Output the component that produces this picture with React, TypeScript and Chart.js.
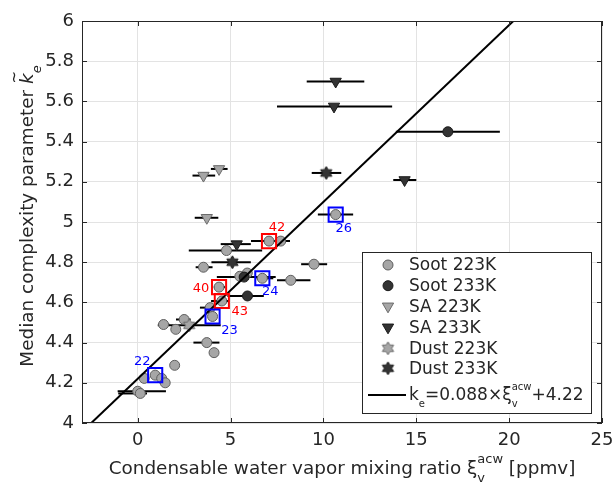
import React, { useEffect, useRef } from "react";
import { Chart, registerables } from "chart.js";

Chart.register(...registerables);

// ---------------- data ----------------
// Soot 223K (grey circles)
const soot223X = [0.0, 0.14, 0.35, 0.94, 1.29, 1.48, 1.99, 1.39, 2.05, 2.5, 3.72, 4.11, 3.9, 4.03, 4.38, 4.53, 3.54, 4.78, 5.5, 5.9, 6.71, 8.24, 7.07, 7.7, 9.49, 10.66];
const soot223Y = [4.158, 4.147, 4.222, 4.238, 4.222, 4.2, 4.287, 4.49, 4.466, 4.515, 4.4, 4.35, 4.574, 4.53, 4.676, 4.607, 4.775, 4.858, 4.73, 4.746, 4.72, 4.71, 4.905, 4.905, 4.79, 5.037];
const soot223Lo: (number | null)[] = [-1.08, -1.05, null, null, null, null, null, 1.1, null, 2.06, 3.0, null, 3.35, null, 4.1, 3.95, 3.12, 2.75, null, null, 6.4, 7.5, 6.1, null, 8.8, 9.7];
const soot223Hi: (number | null)[] = [1.52, 0.5, null, null, null, null, null, 1.7, null, 2.85, 4.4, null, 4.05, null, 4.7, 4.9, 4.03, 6.7, null, null, 7.3, 9.3, 8.2, null, 10.2, 11.6];

// Soot 233K (dark circles)
const soot233X = [5.73, 5.91, 16.7];
const soot233Y = [4.726, 4.632, 5.449];
const soot233Lo = [4.26, 4.83, 13.9];
const soot233Hi = [7.43, 6.79, 19.5];

// SA 223K (grey down triangles)
const sa223X = [3.54, 4.38, 3.72];
const sa223Y = [5.231, 5.264, 5.021];
const sa223Lo = [2.95, 3.94, 3.07];
const sa223Hi = [4.17, 4.84, 4.34];

// SA 233K (dark down triangles)
const sa233X = [10.66, 10.57, 14.37, 5.33];
const sa233Y = [5.699, 5.575, 5.209, 4.89];
const sa233Lo = [9.1, 7.5, 13.76, 4.47];
const sa233Hi = [12.2, 13.7, 15.0, 6.09];

// Dust 223K (grey hexagrams)
const dust223X = [2.77];
const dust223Y = [4.486];
const dust223Lo = [1.08];
const dust223Hi = [4.47];

// Dust 233K (dark hexagrams)
const dust233X = [10.15, 5.1];
const dust233Y = [5.244, 4.8];
const dust233Lo = [9.37, 3.97];
const dust233Hi = [10.96, 6.09];

// highlighted experiments (indices into Soot 223K)
const blueIdx = [3, 13, 20, 25];
const blueLabels = ["22", "23", "24", "26"];
const redIdx = [14, 15, 22];
const redLabels = ["40", "43", "42"];

// linear fit
const fitSlope = 0.088;
const fitIntercept = 4.22;

// axes
const xTicks = [0, 5, 10, 15, 20, 25];
const yTicks = [4, 4.2, 4.4, 4.6, 4.8, 5, 5.2, 5.4, 5.6, 5.8, 6];
const xMin = -3, xMax = 25, yMin = 4, yMax = 6;

// ---------------- style ----------------
const FAM = '"DejaVu Sans", sans-serif';
const TXT = "#262626";
const GREY = "#a6a6a6";
const GREY_EDGE = "#5e5e5e";
const DARK = "#333333";
const DARK_EDGE = "#1a1a1a";
const TICK_SIZE = 18;
const TITLE_SIZE = 18.4;
const LEG_SIZE = 17;

// label pixel offsets relative to highlighted square
const blueOffsets = [[-13, -14], [17, 14], [8, 13], [8, 14]];
const redOffsets = [[-18, 2], [18, 11], [8, -13]];

function makeHexagram(fill: string, stroke: string, r: number) {
  const c = document.createElement("canvas");
  const s = Math.ceil(r * 2 + 4);
  c.width = s;
  c.height = s;
  const g = c.getContext("2d")!;
  const cx = s / 2, cy = s / 2;
  g.beginPath();
  for (let i = 0; i < 12; i++) {
    const a = -Math.PI / 2 + (i * Math.PI) / 6;
    const rr = i % 2 === 0 ? r : r * 0.58;
    const px = cx + rr * Math.cos(a), py = cy + rr * Math.sin(a);
    if (i === 0) g.moveTo(px, py); else g.lineTo(px, py);
  }
  g.closePath();
  g.fillStyle = fill;
  g.fill();
  g.strokeStyle = stroke;
  g.lineWidth = 1;
  g.stroke();
  return c;
}

type Seg = { t: string; sub?: string; sup?: string; italic?: boolean; tilde?: boolean };

function drawRich(ctx: CanvasRenderingContext2D, segs: Seg[], x: number, y: number, size: number, align: "left" | "center", ratio = 0.7) {
  const small = Math.round(size * ratio);
  const f = (sz: number, it?: boolean) => `${it ? "italic " : ""}${sz}px ${FAM}`;
  const widths = segs.map((s) => {
    ctx.font = f(size, s.italic);
    const w = ctx.measureText(s.t).width;
    ctx.font = f(small, s.italic);
    const ws = Math.max(s.sub ? ctx.measureText(s.sub).width : 0, s.sup ? ctx.measureText(s.sup).width : 0);
    return w + ws;
  });
  const total = widths.reduce((a, b) => a + b, 0);
  let cx = align === "center" ? x - total / 2 : x;
  ctx.textAlign = "left";
  ctx.textBaseline = "alphabetic";
  segs.forEach((s, i) => {
    ctx.font = f(size, s.italic);
    ctx.fillText(s.t, cx, y);
    const w = ctx.measureText(s.t).width;
    if (s.tilde) {
      ctx.save();
      ctx.font = `${Math.round(size * 0.8)}px ${FAM}`;
      ctx.textAlign = "center";
      ctx.textBaseline = "middle";
      ctx.fillText("~", cx + w / 2 + 1.5, y - size * 0.95);
      ctx.restore();
    }
    ctx.font = f(small, s.italic);
    if (s.sub) ctx.fillText(s.sub, cx + w, y + size * 0.42);
    if (s.sup) ctx.fillText(s.sup, cx + w, y - size * 0.6);
    cx += widths[i];
  });
}

const allBars = [
  { x: soot223X, y: soot223Y, lo: soot223Lo, hi: soot223Hi },
  { x: soot233X, y: soot233Y, lo: soot233Lo, hi: soot233Hi },
  { x: sa223X, y: sa223Y, lo: sa223Lo, hi: sa223Hi },
  { x: sa233X, y: sa233Y, lo: sa233Lo, hi: sa233Hi },
  { x: dust223X, y: dust223Y, lo: dust223Lo, hi: dust223Hi },
  { x: dust233X, y: dust233Y, lo: dust233Lo, hi: dust233Hi },
];

const pts = (xs: number[], ys: number[]) => xs.map((x, i) => ({ x, y: ys[i] }));

export default function App() {
  const ref = useRef<HTMLCanvasElement | null>(null);

  useEffect(() => {
    document.body.style.margin = "0";
    const canvas = ref.current!;
    const hexLight = makeHexagram(GREY, "#6a6a6a", 6.5);
    const hexDark = makeHexagram(DARK, DARK_EDGE, 6.5);

    const overlay = {
      id: "overlay",
      beforeDatasetsDraw(chart: any) {
        const ctx = chart.ctx as CanvasRenderingContext2D;
        const xs = chart.scales.x, ys = chart.scales.y;
        ctx.save();
        ctx.strokeStyle = "#000";
        ctx.lineWidth = 2;
        allBars.forEach((s) => {
          s.x.forEach((_, i) => {
            const lo = s.lo[i], hi = s.hi[i];
            if (lo == null || hi == null) return;
            const py = ys.getPixelForValue(s.y[i]);
            ctx.beginPath();
            ctx.moveTo(xs.getPixelForValue(lo), py);
            ctx.lineTo(xs.getPixelForValue(hi), py);
            ctx.stroke();
          });
        });
        ctx.restore();
      },
      afterDraw(chart: any) {
        const ctx = chart.ctx as CanvasRenderingContext2D;
        const xs = chart.scales.x, ys = chart.scales.y;
        const a = chart.chartArea;
        ctx.save();
        // frame
        ctx.strokeStyle = TXT;
        ctx.lineWidth = 1;
        ctx.strokeRect(Math.round(a.left) + 0.5, Math.round(a.top) + 0.5, Math.round(a.right - a.left) - 1, Math.round(a.bottom - a.top) - 1);
        // inward ticks
        ctx.beginPath();
        xTicks.forEach((v) => {
          const px = Math.round(xs.getPixelForValue(v)) + 0.5;
          ctx.moveTo(px, a.bottom);
          ctx.lineTo(px, a.bottom - 5);
          ctx.moveTo(px, a.top);
          ctx.lineTo(px, a.top + 5);
        });
        yTicks.forEach((v) => {
          const py = Math.round(ys.getPixelForValue(v)) + 0.5;
          ctx.moveTo(a.left, py);
          ctx.lineTo(a.left + 5, py);
          ctx.moveTo(a.right, py);
          ctx.lineTo(a.right - 5, py);
        });
        ctx.stroke();

        // highlight labels
        ctx.font = `13px ${FAM}`;
        ctx.textAlign = "center";
        ctx.textBaseline = "middle";
        ctx.fillStyle = "#0000ff";
        blueIdx.forEach((k, i) => {
          ctx.fillText(blueLabels[i], xs.getPixelForValue(soot223X[k]) + blueOffsets[i][0], ys.getPixelForValue(soot223Y[k]) + blueOffsets[i][1]);
        });
        ctx.fillStyle = "#ff0000";
        redIdx.forEach((k, i) => {
          ctx.fillText(redLabels[i], xs.getPixelForValue(soot223X[k]) + redOffsets[i][0], ys.getPixelForValue(soot223Y[k]) + redOffsets[i][1]);
        });

        // legend
        const L = 362, T = 252, R = 591, B = 413;
        ctx.fillStyle = "#ffffff";
        ctx.fillRect(L, T, R - L, B - T);
        ctx.strokeStyle = TXT;
        ctx.lineWidth = 1;
        ctx.strokeRect(L + 0.5, T + 0.5, R - L, B - T);
        const mx = 388, tx = 409;
        const rows = [265, 285.7, 306.3, 327.3, 348.3, 368.3];
        const names = ["Soot 223K", "Soot 233K", "SA 223K", "SA 233K", "Dust 223K", "Dust 233K"];
        const drawCircle = (y: number, fill: string, edge: string) => {
          ctx.beginPath();
          ctx.arc(mx, y, 5, 0, Math.PI * 2);
          ctx.fillStyle = fill;
          ctx.fill();
          ctx.strokeStyle = edge;
          ctx.lineWidth = 1;
          ctx.stroke();
        };
        const drawTri = (y: number, fill: string, edge: string) => {
          const r = 6.5;
          ctx.beginPath();
          for (let i = 0; i < 3; i++) {
            const ang = Math.PI / 2 + (i * 2 * Math.PI) / 3;
            const px = mx + r * Math.cos(ang), py = y + r * Math.sin(ang);
            if (i === 0) ctx.moveTo(px, py); else ctx.lineTo(px, py);
          }
          ctx.closePath();
          ctx.fillStyle = fill;
          ctx.fill();
          ctx.strokeStyle = edge;
          ctx.lineWidth = 1;
          ctx.stroke();
        };
        drawCircle(rows[0], GREY, GREY_EDGE);
        drawCircle(rows[1], DARK, DARK_EDGE);
        drawTri(rows[2], GREY, "#6a6a6a");
        drawTri(rows[3], DARK, DARK_EDGE);
        ctx.drawImage(hexLight, mx - hexLight.width / 2, rows[4] - hexLight.height / 2);
        ctx.drawImage(hexDark, mx - hexDark.width / 2, rows[5] - hexDark.height / 2);
        ctx.fillStyle = TXT;
        ctx.font = `${LEG_SIZE}px ${FAM}`;
        ctx.textAlign = "left";
        ctx.textBaseline = "middle";
        names.forEach((n, i) => ctx.fillText(n, tx, rows[i] + 1));
        // fit entry
        ctx.strokeStyle = "#000";
        ctx.lineWidth = 2;
        ctx.beginPath();
        ctx.moveTo(368, 395);
        ctx.lineTo(406, 395);
        ctx.stroke();
        ctx.fillStyle = TXT;
        drawRich(ctx, [
          { t: "k", sub: "e" },
          { t: "=" + fitSlope.toFixed(3) + "\u00d7\u03be", sub: "v", sup: "acw" },
          { t: "+" + fitIntercept.toFixed(2) },
        ], tx, 400, LEG_SIZE, "left", 0.6);

        // axis titles
        ctx.fillStyle = TXT;
        drawRich(ctx, [
          { t: "Condensable water vapor mixing ratio \u03be", sub: "v", sup: "acw" },
          { t: " [ppmv]" },
        ], (a.left + a.right) / 2, 474, TITLE_SIZE, "center");
        ctx.save();
        ctx.translate(33, (a.top + a.bottom) / 2 - 6);
        ctx.rotate(-Math.PI / 2);
        drawRich(ctx, [
          { t: "Median complexity parameter " },
          { t: "k", italic: true, tilde: true, sub: "e" },
        ], 0, 0, TITLE_SIZE, "center");
        ctx.restore();
        ctx.restore();
      },
    };

    const fitX0 = (yMin - fitIntercept) / fitSlope;
    const fitX1 = (yMax - fitIntercept) / fitSlope;

    const chart = new Chart(canvas, {
      type: "scatter",
      data: {
        datasets: [
          {
            label: "blue",
            data: blueIdx.map((k) => ({ x: soot223X[k], y: soot223Y[k] })),
            pointStyle: "rect",
            pointRadius: 10,
            backgroundColor: "rgba(0,0,0,0)",
            borderColor: "#0000ff",
            borderWidth: 2,
            order: 0,
          } as any,
          {
            label: "red",
            data: redIdx.map((k) => ({ x: soot223X[k], y: soot223Y[k] })),
            pointStyle: "rect",
            pointRadius: 10,
            backgroundColor: "rgba(0,0,0,0)",
            borderColor: "#ff0000",
            borderWidth: 2,
            order: 0,
          },
          {
            label: "fit",
            data: [
              { x: fitX0, y: fitSlope * fitX0 + fitIntercept },
              { x: fitX1, y: fitSlope * fitX1 + fitIntercept },
            ],
            showLine: true,
            borderColor: "#000",
            borderWidth: 2,
            pointRadius: 0,
            order: 1,
          },
          {
            label: "Dust 233K",
            data: pts(dust233X, dust233Y),
            pointStyle: hexDark,
            order: 2,
          },
          {
            label: "Dust 223K",
            data: pts(dust223X, dust223Y),
            pointStyle: hexLight,
            order: 3,
          },
          {
            label: "SA 233K",
            data: pts(sa233X, sa233Y),
            pointStyle: "triangle",
            rotation: 180,
            pointRadius: 6.5,
            backgroundColor: DARK,
            borderColor: DARK_EDGE,
            borderWidth: 1,
            order: 4,
          },
          {
            label: "SA 223K",
            data: pts(sa223X, sa223Y),
            pointStyle: "triangle",
            rotation: 180,
            pointRadius: 6.5,
            backgroundColor: GREY,
            borderColor: "#6a6a6a",
            borderWidth: 1,
            order: 5,
          },
          {
            label: "Soot 233K",
            data: pts(soot233X, soot233Y),
            pointStyle: "circle",
            pointRadius: 5,
            backgroundColor: DARK,
            borderColor: DARK_EDGE,
            borderWidth: 1,
            order: 6,
          },
          {
            label: "Soot 223K",
            data: pts(soot223X, soot223Y),
            pointStyle: "circle",
            pointRadius: 5,
            backgroundColor: GREY,
            borderColor: GREY_EDGE,
            borderWidth: 1,
            order: 7,
          },
        ],
      },
      options: {
        animation: false,
        responsive: false,
        devicePixelRatio: 1,
        layout: { padding: { top: 21, right: 13, left: 0, bottom: 0 } },
        plugins: { legend: { display: false }, tooltip: { enabled: false } },
        events: [],
        scales: {
          x: {
            type: "linear",
            min: xMin,
            max: xMax,
            afterBuildTicks: (s: any) => {
              s.ticks = xTicks.map((v) => ({ value: v }));
            },
            afterFit: (s: any) => {
              s.height = 60;
              s.paddingLeft = 0;
              s.paddingRight = 0;
            },
            grid: { color: "#e3e3e3", drawTicks: false },
            border: { display: false },
            ticks: {
              color: TXT,
              font: { family: FAM, size: TICK_SIZE },
              padding: 7,
              maxRotation: 0,
              callback: (v: any) => String(v),
            },
          },
          y: {
            type: "linear",
            min: yMin,
            max: yMax,
            afterBuildTicks: (s: any) => {
              s.ticks = yTicks.map((v) => ({ value: v }));
            },
            afterFit: (s: any) => {
              s.width = 82;
              s.paddingTop = 0;
              s.paddingBottom = 0;
            },
            grid: { color: "#e3e3e3", drawTicks: false },
            border: { display: false },
            ticks: {
              color: TXT,
              font: { family: FAM, size: TICK_SIZE },
              padding: 8,
              callback: (v: any) => String(Number(Number(v).toFixed(1))),
            },
          },
        },
      },
      plugins: [overlay],
    } as any);

    return () => chart.destroy();
  }, []);

  return <canvas ref={ref} width={615} height={483} style={{ display: "block" }} />;
}
